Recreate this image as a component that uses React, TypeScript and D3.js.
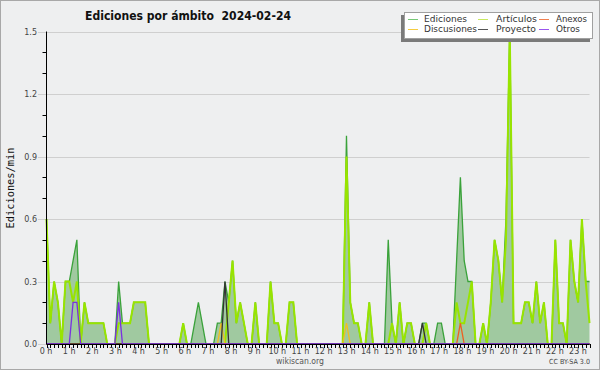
import React from "react";
import * as d3 from "d3";

// ---------- data (edits per minute, 10-minute buckets, 2024-02-24) ----------
const hourLabels = [
  "0 h", "1 h", "2 h", "3 h", "4 h", "5 h", "6 h", "7 h", "8 h", "9 h", "10 h", "11 h",
  "12 h", "13 h", "14 h", "15 h", "16 h", "17 h", "18 h", "19 h", "20 h", "21 h", "22 h", "23 h",
];
const yTicks = [0, 0.3, 0.6, 0.9, 1.2, 1.5];
const yTickLabels = ["0.0", "0.3", "0.6", "0.9", "1.2", "1.5"];

const ediciones = [
  0.6, 0.1, 0.3, 0.2, 0, 0.3,
  0.3, 0.4, 0.5, 0, 0.2, 0.1,
  0.1, 0.1, 0.1, 0.1, 0, 0,
  0, 0.3, 0.1, 0.1, 0.1, 0.2,
  0.2, 0.2, 0.2, 0, 0, 0,
  0, 0, 0, 0, 0, 0,
  0.1, 0, 0, 0.1, 0.2, 0.1,
  0, 0, 0, 0.1, 0.1, 0.3,
  0.2, 0.4, 0.1, 0.2, 0.1, 0,
  0, 0.2, 0, 0, 0, 0.3,
  0.1, 0.1, 0, 0, 0.2, 0.2,
  0, 0, 0, 0, 0, 0,
  0, 0, 0, 0, 0, 0,
  0, 1.0, 0.2, 0.1, 0.1, 0,
  0, 0.2, 0, 0, 0, 0,
  0.5, 0.1, 0, 0.2, 0, 0.1,
  0.1, 0, 0, 0.1, 0.1, 0,
  0, 0.1, 0.1, 0, 0, 0,
  0.4, 0.8, 0.4, 0.3, 0.3, 0,
  0, 0.1, 0, 0.2, 0.5, 0.4,
  0.2, 0.6, 1.5, 0.1, 0.1, 0.1,
  0.2, 0.2, 0.1, 0.3, 0.1, 0.2,
  0, 0, 0.5, 0.1, 0.1, 0,
  0.5, 0.3, 0.2, 0.6, 0.3, 0.3,
];

const articulos = [
  0.6, 0.1, 0.3, 0.2, 0, 0.3,
  0.3, 0.2, 0.3, 0, 0.2, 0.1,
  0.1, 0.1, 0.1, 0.1, 0, 0,
  0, 0.1, 0.1, 0.1, 0.1, 0.2,
  0.2, 0.2, 0.2, 0, 0, 0,
  0, 0, 0, 0, 0, 0,
  0.1, 0, 0, 0, 0, 0,
  0, 0, 0, 0, 0, 0,
  0.2, 0.4, 0.1, 0.2, 0.1, 0,
  0, 0.2, 0, 0, 0, 0.3,
  0.1, 0.1, 0, 0, 0.2, 0.2,
  0, 0, 0, 0, 0, 0,
  0, 0, 0, 0, 0, 0,
  0, 0.9, 0.2, 0.1, 0.1, 0,
  0, 0.2, 0, 0, 0, 0,
  0, 0.1, 0, 0.2, 0, 0.1,
  0.1, 0, 0, 0, 0.1, 0,
  0, 0, 0, 0, 0, 0,
  0.2, 0.1, 0.1, 0.2, 0.3, 0,
  0, 0.1, 0, 0.2, 0.5, 0.4,
  0.2, 0.5, 1.5, 0.1, 0.1, 0.1,
  0.2, 0.2, 0.1, 0.3, 0.1, 0.2,
  0, 0, 0.5, 0.1, 0.1, 0,
  0.5, 0.3, 0.2, 0.6, 0.3, 0.1,
];

const discusiones = [
  0, 0, 0, 0, 0, 0,  0, 0, 0, 0, 0, 0,  0, 0, 0, 0, 0, 0,  0, 0, 0, 0, 0, 0,
  0, 0, 0, 0, 0, 0,  0, 0, 0, 0, 0, 0,  0, 0, 0, 0, 0, 0,  0, 0, 0, 0, 0.1, 0,
  0, 0, 0, 0, 0, 0,  0, 0, 0, 0, 0, 0,  0, 0, 0, 0, 0, 0,  0, 0, 0, 0, 0, 0,
  0, 0, 0, 0, 0, 0,  0, 0.1, 0, 0, 0, 0,  0, 0, 0, 0, 0, 0,  0, 0, 0, 0, 0, 0,
  0, 0, 0, 0, 0, 0,  0, 0, 0, 0, 0, 0,  0, 0, 0, 0, 0, 0,  0, 0, 0, 0, 0, 0,
  0, 0, 0, 0, 0, 0,  0, 0, 0, 0, 0, 0,  0, 0, 0, 0, 0, 0,  0, 0, 0, 0, 0, 0,
];

const proyecto = [
  0, 0, 0, 0, 0, 0,  0, 0, 0, 0, 0, 0,  0, 0, 0, 0, 0, 0,  0, 0, 0, 0, 0, 0,
  0, 0, 0, 0, 0, 0,  0, 0, 0, 0, 0, 0,  0, 0, 0, 0, 0, 0,  0, 0, 0, 0, 0, 0.3,
  0, 0, 0, 0, 0, 0,  0, 0, 0, 0, 0, 0,  0, 0, 0, 0, 0, 0,  0, 0, 0, 0, 0, 0,
  0, 0, 0, 0, 0, 0,  0, 0, 0, 0, 0, 0,  0, 0, 0, 0, 0, 0,  0, 0, 0, 0, 0, 0,
  0, 0, 0, 0.1, 0, 0,  0, 0, 0, 0, 0, 0,  0, 0, 0, 0, 0, 0,  0, 0, 0, 0, 0, 0,
  0, 0, 0, 0, 0, 0,  0, 0, 0, 0, 0, 0,  0, 0, 0, 0, 0, 0,  0, 0, 0, 0, 0, 0,
];

const anexos = [
  0, 0, 0, 0, 0, 0,  0, 0, 0, 0, 0, 0,  0, 0, 0, 0, 0, 0,  0, 0, 0, 0, 0, 0,
  0, 0, 0, 0, 0, 0,  0, 0, 0, 0, 0, 0,  0, 0, 0, 0, 0, 0,  0, 0, 0, 0, 0, 0,
  0, 0, 0, 0, 0, 0,  0, 0, 0, 0, 0, 0,  0, 0, 0, 0, 0, 0,  0, 0, 0, 0, 0, 0,
  0, 0, 0, 0, 0, 0,  0, 0, 0, 0, 0, 0,  0, 0, 0, 0, 0, 0,  0, 0, 0, 0, 0, 0,
  0, 0, 0, 0, 0, 0,  0, 0, 0, 0, 0, 0,  0, 0, 0, 0, 0, 0,  0, 0, 0, 0, 0, 0,
  0, 0, 0, 0, 0, 0,  0, 0, 0, 0, 0, 0,  0, 0, 0, 0, 0, 0,  0, 0, 0, 0, 0, 0,
];
anexos[109] = 0.1;

const otros = [
  0, 0, 0, 0, 0, 0,  0, 0.2, 0.2, 0, 0, 0,  0, 0, 0, 0, 0, 0,  0, 0.2, 0, 0, 0, 0,
  0, 0, 0, 0, 0, 0,  0, 0, 0, 0, 0, 0,  0, 0, 0, 0, 0, 0,  0, 0, 0, 0, 0, 0,
  0, 0, 0, 0, 0, 0,  0, 0, 0, 0, 0, 0,  0, 0, 0, 0, 0, 0,  0, 0, 0, 0, 0, 0,
  0, 0, 0, 0, 0, 0,  0, 0, 0, 0, 0, 0,  0, 0, 0, 0, 0, 0,  0, 0, 0, 0, 0, 0,
  0, 0, 0, 0, 0, 0,  0, 0, 0, 0, 0, 0,  0, 0, 0, 0, 0, 0,  0, 0, 0, 0, 0, 0,
  0, 0, 0, 0, 0, 0,  0, 0, 0, 0, 0, 0,  0, 0, 0, 0, 0, 0,  0, 0, 0, 0, 0, 0,
];

const legendNames = ["Ediciones", "Artículos", "Anexos", "Discusiones", "Proyecto", "Otros"];
const titleText = "Ediciones por ámbito  2024-02-24";

// ---------- styling ----------
const BG = "#eeeff0";
const legendColors = ["#77c877", "#c8e860", "#f08050", "#f5cc40", "#555555", "#9955ee"];
const legendTextWidths = [43, 41, 31, 53, 40, 24];

export default function App() {
  const W = 600, H = 370;
  const left = 46.5, right = 589.5, top = 31.5, bottom = 344;
  const n = ediciones.length;

  const x = d3.scaleLinear().domain([0, n - 1]).range([left, right]);
  const xLab = d3.scaleLinear().domain([0, hourLabels.length - 1]).range([46, 578]);
  const y = d3.scaleLinear().domain([0, 1.5]).range([bottom, top]);

  const area = d3.area<number>().x((_, i) => x(i)).y0(y(0)).y1((d) => y(d));
  const line = d3.line<number>().x((_, i) => x(i)).y((d) => y(d));

  const minorY = d3.range(0, 16).map((k) => k / 10);
  const font = "'DejaVu Sans', sans-serif";

  const legendCols = [408, 478, 539];
  const legendTextX = [424, 496, 556];
  const legendRows = [19, 29];

  return (
    <svg
      width={W}
      height={H}
      viewBox={`0 0 ${W} ${H}`}
      style={{ position: "absolute", left: 0, top: 0, display: "block" }}
    >
      <rect x={0} y={0} width={W} height={H} fill={BG} />
      <rect x={0.5} y={0.5} width={W - 1} height={H - 1} fill="none" stroke="#a8a8a8" />

      {/* grid */}
      {yTicks.map((t, i) => (
        <line key={"g" + i} x1={38} x2={right} y1={Math.round(y(t)) + 0.5} y2={Math.round(y(t)) + 0.5} stroke="#cfcfcf" />
      ))}

      {/* data */}
      <path d={area(ediciones) || ""} fill="#a0c9a0" />
      <path d={line(ediciones) || ""} fill="none" stroke="#3aa23a" strokeWidth={1.3} />
      <path d={line(articulos) || ""} fill="none" stroke="#98e400" strokeWidth={2} />
      <path d={line(discusiones) || ""} fill="none" stroke="#f0c020" strokeWidth={1.3} />
      <path d={line(anexos) || ""} fill="none" stroke="#ee6020" strokeWidth={1.3} />
      <path d={line(proyecto) || ""} fill="none" stroke="#333333" strokeWidth={1.3} />
      <path d={line(otros) || ""} fill="none" stroke="#7a30e0" strokeWidth={1.3} />

      {/* y axis */}
      <line x1={left} x2={left} y1={top} y2={bottom} stroke="#000" />
      {minorY.filter((v) => Math.round(v * 10) % 3 !== 0).map((v, i) => (
        <line key={"my" + i} x1={42.5} x2={left} y1={Math.round(y(v)) + 0.5} y2={Math.round(y(v)) + 0.5} stroke="#000" />
      ))}
      {yTicks.map((t, i) => (
        <text key={"yl" + i} x={37} y={y(t) + 3} fontSize={8} fontFamily={font} fill="#444" textAnchor="end">
          {yTickLabels[i]}
        </text>
      ))}

      {/* x axis */}
      <line x1={left} x2={right} y1={bottom + 0.5} y2={bottom + 0.5} stroke="#000" />
      {d3.range(n).map((i) => (
        <line key={"xt" + i} x1={Math.round(x(i)) + 0.5} x2={Math.round(x(i)) + 0.5} y1={bottom} y2={bottom + 4} stroke="#000" />
      ))}
      {hourLabels.map((h, i) => (
        <text key={"xl" + i} x={xLab(i)} y={354} fontSize={8} fontFamily={font} fill="#444" textAnchor="middle">
          {h}
        </text>
      ))}

      {/* titles */}
      <text
        x={85}
        y={19.5}
        fontSize={13}
        fontWeight="bold"
        fontFamily={font}
        fill="#111"
        textLength={206}
        lengthAdjust="spacingAndGlyphs"
        xmlSpace="preserve"
        style={{ whiteSpace: "pre" }}
      >
        {titleText}
      </text>
      <text
        transform={`translate(13.5, 188) rotate(-90)`}
        fontSize={10.5}
        fontFamily="'DejaVu Sans Mono', monospace"
        fill="#111"
        textAnchor="middle"
        textLength={81}
        lengthAdjust="spacingAndGlyphs"
      >
        Ediciones/min
      </text>
      <text x={300} y={364} fontSize={8} fontFamily={font} fill="#555" textAnchor="middle" textLength={48} lengthAdjust="spacingAndGlyphs">
        wikiscan.org
      </text>
      <text x={590} y={364} fontSize={7} fontFamily={font} fill="#444" textAnchor="end" textLength={41} lengthAdjust="spacingAndGlyphs">
        CC BY-SA 3.0
      </text>

      {/* legend */}
      <rect x={401} y={15} width={189} height={27} fill="#7a7a7a" />
      <rect x={404.5} y={12.5} width={188} height={26} fill="#fff" stroke="#a0a0a0" />
      {legendNames.map((name, i) => {
        const col = i % 3;
        const row = Math.floor(i / 3);
        const cy = legendRows[row];
        return (
          <g key={"lg" + i}>
            <line x1={legendCols[col]} x2={legendCols[col] + 10} y1={cy + 0.5} y2={cy + 0.5} stroke={legendColors[i]} strokeWidth={1} />
            <text
              x={legendTextX[col]}
              y={cy + 3.3}
              fontSize={9}
              fontFamily={font}
              fill="#333"
              textLength={legendTextWidths[i]}
              lengthAdjust="spacingAndGlyphs"
            >
              {name}
            </text>
          </g>
        );
      })}
    </svg>
  );
}
